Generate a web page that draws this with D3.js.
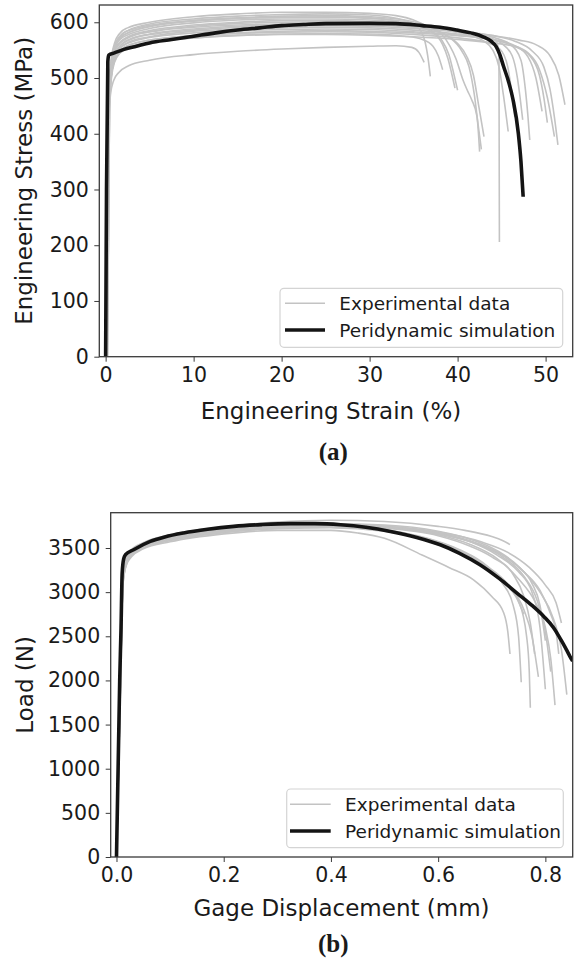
<!DOCTYPE html>
<html><head><meta charset="utf-8">
<script src="https://cdn.jsdelivr.net/npm/d3@7"></script>
<style>body{margin:0;background:#fff}svg{display:block}text{fill:#1a1a1a}</style>
</head><body>
<svg id="c" width="576" height="963"></svg>
<script>
// ---------- DATA ----------
const topXTicks = [0, 10, 20, 30, 40, 50];
const topYTicks = [0, 100, 200, 300, 400, 500, 600];
const botXTicks = [0.0, 0.2, 0.4, 0.6, 0.8];
const botYTicks = [0, 500, 1000, 1500, 2000, 2500, 3000, 3500];
const legendLabels = ["Experimental data", "Peridynamic simulation"];

// Engineering strain (%) vs engineering stress (MPa), experimental tests
const expStressStrain = [
 [[0.1,0],[0.35,450],[0.6,530],[1.0,562],[1.6,580],[2.5,590],[5,600],[10,610],[15,615],[20,618],[25,618],[30,616],[33,612],[35,604],[36.5,592],[37.5,578],[38.3,560],[38.9,535],[39.3,510],[39.7,482]],
 [[0.15,0],[0.4,470],[0.7,535],[1.1,560],[1.8,578],[2.6,586],[5,597],[10,606],[15,611],[20,614],[25,615],[30,613],[33,607],[34.8,598],[35.8,585],[36.3,565],[36.6,540],[36.9,503]],
 [[0.1,0],[0.3,430],[0.55,515],[0.9,550],[1.5,570],[2.4,580],[5,592],[10,603],[15,608],[20,611],[25,612],[30,610],[34,604],[36.5,594],[38,582],[39.1,558],[39.8,535],[40.6,497],[41.1,478],[41.6,461],[42.2,431],[42.5,368]],
 [[0.2,0],[0.45,480],[0.75,540],[1.2,565],[2.0,580],[3,587],[6,597],[10,603],[15,607],[20,609],[25,610],[30,608],[33,603],[35.5,594],[37,583],[38.2,568],[39,542],[39.5,512],[40,478]],
 [[0.1,0],[0.35,445],[0.6,520],[1.0,553],[1.7,570],[2.6,578],[5,589],[10,599],[15,604],[20,606],[25,606],[30,604],[34,598],[37,588],[39,574],[40.5,548],[41.3,520],[41.9,470],[42.3,420],[42.7,372]],
 [[0.15,0],[0.4,455],[0.7,525],[1.1,553],[1.9,568],[2.8,576],[5,585],[10,595],[15,600],[20,603],[25,603],[30,601],[35,595],[39,585],[41.5,576],[43,566],[44,550],[44.7,520],[45.2,470],[45.75,404]],
 [[0.1,0],[0.3,425],[0.6,515],[1.0,548],[1.8,566],[2.7,574],[5,583],[10,593],[15,598],[20,600],[25,601],[30,599],[35,594],[40,585],[43,575],[45,562],[46.2,540],[46.8,500],[47.1,465],[47.4,425]],
 [[0.2,0],[0.45,470],[0.8,535],[1.3,556],[2.1,568],[3,575],[6,585],[10,591],[15,595],[20,597],[25,598],[30,597],[35,592],[40,584],[44,573],[46,560],[47.2,532],[47.7,480],[48,430],[48.2,389]],
 [[0.1,0],[0.35,440],[0.65,515],[1.1,545],[1.9,562],[2.8,570],[5,579],[10,588],[15,593],[20,595],[25,596],[30,595],[35,591],[40,584],[44,576],[46.5,566],[48.5,548],[49.8,520],[50.5,480],[51,430],[51.4,380]],
 [[0.15,0],[0.4,455],[0.7,520],[1.2,547],[2.0,562],[3,570],[6,580],[10,586],[15,591],[20,593],[25,594],[30,593],[35,589],[40,583],[44,576],[47,568],[49,559],[50.5,540],[51.5,505],[52.2,452]],
 [[0.1,0],[0.3,420],[0.6,505],[1.0,538],[1.8,556],[2.7,565],[5,574],[10,584],[15,588],[20,590],[25,591],[30,590],[35,586],[40,579],[43.5,571],[46,560],[48,545],[49.3,515],[50.2,465],[51,395]],
 [[0.2,0],[0.45,460],[0.8,525],[1.3,548],[2.2,560],[3.2,566],[6,575],[10,581],[15,585],[20,587],[25,588],[30,587],[35,583],[40,577],[44,569],[46.5,558],[48,538],[48.9,500],[49.6,440]],
 [[0.1,0],[0.35,430],[0.65,505],[1.1,535],[1.9,552],[2.9,560],[5,568],[10,576],[15,581],[20,584],[25,585],[30,584],[35,581],[40,576],[43,571],[44.4,566],[44.7,540],[44.75,206]],
 [[0.15,0],[0.4,445],[0.75,515],[1.2,540],[2.0,554],[3,561],[6,570],[10,576],[15,580],[20,582],[25,583],[30,582],[35,578],[40,572],[43,565],[44.8,552],[45.7,520],[46.1,480],[46.5,430]],
 [[0.1,0],[0.3,415],[0.6,500],[1.0,530],[1.8,548],[2.8,556],[5,564],[10,572],[15,577],[20,579],[25,580],[30,579],[34,575],[36,569],[37.2,557],[37.8,540],[38.3,515]],
 [[0.2,0],[0.45,455],[0.8,515],[1.3,538],[2.2,551],[3.2,557],[6,566],[10,572],[15,576],[20,578],[25,578],[30,577],[35,574],[40,569],[44,563],[46.5,556],[48.2,540],[49.3,505],[49.8,465],[50.2,420]],
 [[0.1,0],[0.3,400],[0.55,470],[0.9,495],[1.5,510],[2.6,522],[5,532],[10,542],[15,548],[20,552],[25,555],[30,557],[33,558],[34.8,555],[35.6,546],[36.2,528]],
 [[0.15,0],[0.4,460],[0.7,530],[1.1,557],[1.8,574],[2.7,582],[5,593],[10,602],[15,607],[20,609],[25,609],[30,607],[34,601],[36.5,591],[38.5,578],[40,562],[41,540],[41.8,505],[42.4,450],[43.0,395]]
];
// Peridynamic simulation, stress-strain
const simStressStrain = [[0,0],[0.1,300],[0.25,530],[0.35,541],[1,545],[2,551],[3.5,557],[5,563],[7.5,569],[10,575],[12.5,581],[15,586],[17.5,590],[20,594],[22.5,596],[25,597.5],[30,598],[33,597.5],[36,594],[38,591],[39.9,586],[41.5,581],[42.9,574],[43.8,566],[44.4,556],[44.8,542],[45.2,522],[45.8,493],[46.3,461],[46.9,401],[47.2,350],[47.45,287]];

// Gage displacement (mm) vs load (N), experimental tests
const expLoadDisp = [
 [[0,0],[0.006,1900],[0.011,3150],[0.016,3360],[0.025,3460],[0.05,3560],[0.1,3650],[0.2,3740],[0.3,3795],[0.4,3815],[0.5,3800],[0.6,3745],[0.65,3700],[0.7,3630],[0.72,3585],[0.734,3540]],
 [[0,0],[0.007,1850],[0.012,3080],[0.018,3300],[0.028,3400],[0.05,3490],[0.1,3570],[0.2,3660],[0.3,3700],[0.4,3700],[0.45,3670],[0.5,3610],[0.57,3420],[0.62,3280],[0.666,3140],[0.7,2950],[0.722,2770],[0.73,2550],[0.734,2300]],
 [[0,0],[0.006,1800],[0.011,3100],[0.017,3320],[0.026,3420],[0.05,3510],[0.1,3595],[0.2,3690],[0.3,3735],[0.4,3745],[0.5,3710],[0.57,3620],[0.63,3500],[0.68,3330],[0.72,3130],[0.75,2900],[0.765,2500],[0.77,2100],[0.772,1690]],
 [[0,0],[0.007,1900],[0.012,3120],[0.017,3330],[0.027,3430],[0.05,3520],[0.1,3605],[0.2,3700],[0.3,3745],[0.4,3760],[0.5,3735],[0.6,3650],[0.66,3540],[0.71,3380],[0.75,3150],[0.78,2900],[0.8,2600],[0.81,2250],[0.818,1720]],
 [[0,0],[0.006,1850],[0.011,3100],[0.016,3320],[0.025,3430],[0.05,3530],[0.1,3615],[0.2,3705],[0.3,3750],[0.4,3765],[0.5,3745],[0.6,3670],[0.67,3560],[0.72,3420],[0.76,3230],[0.79,3000],[0.815,2700],[0.83,2350],[0.84,1840]],
 [[0,0],[0.007,1800],[0.012,3090],[0.018,3310],[0.027,3410],[0.05,3500],[0.1,3590],[0.2,3680],[0.3,3725],[0.4,3735],[0.5,3700],[0.58,3600],[0.64,3470],[0.69,3300],[0.73,3090],[0.76,2800],[0.775,2500],[0.787,2040]],
 [[0,0],[0.006,1900],[0.011,3140],[0.016,3350],[0.025,3450],[0.05,3540],[0.1,3625],[0.2,3715],[0.3,3760],[0.4,3775],[0.5,3760],[0.6,3690],[0.66,3600],[0.71,3470],[0.75,3290],[0.775,3100],[0.79,2850],[0.8,2450]],
 [[0,0],[0.007,1850],[0.012,3110],[0.017,3330],[0.026,3440],[0.05,3530],[0.1,3610],[0.2,3700],[0.3,3745],[0.4,3760],[0.5,3745],[0.6,3680],[0.68,3570],[0.73,3450],[0.77,3280],[0.8,3080],[0.82,2880],[0.83,2650]],
 [[0,0],[0.006,1800],[0.011,3080],[0.017,3300],[0.026,3410],[0.05,3500],[0.1,3585],[0.2,3675],[0.3,3720],[0.4,3730],[0.5,3690],[0.58,3580],[0.64,3440],[0.69,3260],[0.72,3120],[0.745,2950],[0.76,2750]],
 [[0,0],[0.007,1900],[0.012,3130],[0.017,3340],[0.026,3440],[0.05,3525],[0.1,3610],[0.2,3700],[0.3,3740],[0.4,3750],[0.5,3725],[0.6,3640],[0.66,3520],[0.7,3400],[0.74,3200],[0.76,2950],[0.772,2650],[0.78,2300]],
 [[0,0],[0.006,1850],[0.011,3110],[0.016,3330],[0.026,3435],[0.05,3515],[0.1,3600],[0.2,3690],[0.3,3735],[0.4,3750],[0.5,3730],[0.6,3660],[0.67,3550],[0.72,3400],[0.76,3180],[0.785,2900],[0.8,2550],[0.81,2100]],
 [[0,0],[0.007,1800],[0.012,3090],[0.018,3310],[0.027,3420],[0.05,3505],[0.1,3590],[0.2,3680],[0.3,3725],[0.4,3735],[0.5,3700],[0.58,3610],[0.64,3480],[0.69,3300],[0.72,3100],[0.74,2850],[0.75,2500],[0.755,1980]],
 [[0,0],[0.006,1900],[0.011,3120],[0.016,3340],[0.025,3445],[0.05,3530],[0.1,3615],[0.2,3705],[0.3,3750],[0.4,3765],[0.5,3745],[0.6,3670],[0.66,3570],[0.71,3420],[0.75,3230],[0.775,3000],[0.79,2600],[0.8,1900]],
 [[0,0],[0.007,1850],[0.012,3100],[0.017,3320],[0.026,3430],[0.05,3520],[0.1,3605],[0.2,3695],[0.3,3740],[0.4,3755],[0.5,3740],[0.6,3665],[0.67,3555],[0.72,3420],[0.76,3230],[0.79,3020],[0.81,2750],[0.82,2550],[0.825,2300]]
];
// Peridynamic simulation, load-displacement
const simLoadDisp = [[0,0],[0.006,2000],[0.0085,2600],[0.0106,3216],[0.0135,3380],[0.0168,3424],[0.032,3481],[0.063,3575],[0.09,3625],[0.125,3670],[0.17,3712],[0.219,3745],[0.27,3765],[0.324,3776],[0.37,3776],[0.418,3764],[0.465,3735],[0.511,3688],[0.56,3620],[0.604,3537],[0.64,3440],[0.678,3311],[0.715,3150],[0.747,2990],[0.775,2850],[0.797,2725],[0.815,2600],[0.83,2450],[0.84,2340],[0.846,2271],[0.851,2220]];

// ---------- DRAW ----------
const svg = d3.select("#c");
const GRAY = "#c3c3c3", BLACK = "#141414", SPINE = "#3a3a3a";
const SANS = "'DejaVu Sans', sans-serif";

function panel(cfg) {
  const x = d3.scaleLinear().domain(cfg.xDom).range([cfg.left, cfg.right]);
  const y = d3.scaleLinear().domain(cfg.yDom).range([cfg.bottom, cfg.top]);
  const g = svg.append("g");
  const clipId = "clip" + cfg.id;
  svg.append("clipPath").attr("id", clipId).append("rect")
    .attr("x", cfg.left).attr("y", cfg.top)
    .attr("width", cfg.right - cfg.left).attr("height", cfg.bottom - cfg.top);
  const line = d3.line().x(d => x(d[0])).y(d => y(d[1])).curve(d3.curveMonotoneX);
  const plot = g.append("g").attr("clip-path", `url(#${clipId})`);
  plot.selectAll("path.exp").data(cfg.exp).join("path").attr("class", "exp")
    .attr("d", line).attr("fill", "none").attr("stroke", GRAY)
    .attr("stroke-width", 1.6).attr("stroke-linejoin", "round");
  plot.append("path").datum(cfg.sim).attr("d", line).attr("fill", "none")
    .attr("stroke", BLACK).attr("stroke-width", 3.6).attr("stroke-linejoin", "round");

  const xa = g.append("g").attr("transform", `translate(0,${cfg.bottom})`)
    .call(d3.axisBottom(x).tickValues(cfg.xTicks).tickFormat(cfg.xFmt).tickSize(5).tickPadding(5.5));
  const ya = g.append("g").attr("transform", `translate(${cfg.left},0)`)
    .call(d3.axisLeft(y).tickValues(cfg.yTicks).tickFormat(d3.format("d")).tickSize(5).tickPadding(5.5));
  [xa, ya].forEach(a => {
    a.select(".domain").remove();
    a.selectAll(".tick line").attr("stroke", SPINE).attr("stroke-width", 1);
    a.selectAll(".tick text").style("font-size", "20.5px").style("font-family", SANS).style("fill", "#1a1a1a");
  });
  g.append("rect").attr("x", cfg.left).attr("y", cfg.top)
    .attr("width", cfg.right - cfg.left).attr("height", cfg.bottom - cfg.top)
    .attr("fill", "none").attr("stroke", SPINE).attr("stroke-width", 1.3);

  g.append("text").attr("x", cfg.xLabelX).attr("y", cfg.xLabelY).attr("text-anchor", "middle")
    .style("font-family", SANS).style("font-size", "23px").text(cfg.xLabel);
  g.append("text").attr("transform", `translate(${cfg.yLabelX},${(cfg.top + cfg.bottom) / 2}) rotate(-90)`)
    .attr("text-anchor", "middle").style("font-family", SANS).style("font-size", "23px").text(cfg.yLabel);
  g.append("text").attr("x", 333.3).attr("y", cfg.capY).attr("text-anchor", "middle")
    .style("font-family", "'Liberation Serif', 'Times New Roman', serif").style("font-weight", "bold")
    .style("font-size", "25px").text(cfg.cap);

  // legend
  const L = cfg.leg;
  g.append("rect").attr("x", L.x0).attr("y", L.y0).attr("width", L.x1 - L.x0).attr("height", L.y1 - L.y0)
    .attr("rx", 4).attr("fill", "#fff").attr("fill-opacity", 0.85)
    .attr("stroke", "#d4d4d4").attr("stroke-width", 1.2);
  legendLabels.forEach((lab, i) => {
    const yy = L.rows[i];
    g.append("line").attr("x1", L.h0).attr("x2", L.h1).attr("y1", yy).attr("y2", yy)
      .attr("stroke", i === 0 ? GRAY : BLACK).attr("stroke-width", i === 0 ? 1.6 : 3.6);
    g.append("text").attr("x", L.tx).attr("y", yy + 6.6)
      .style("font-family", SANS).style("font-size", "18.5px").text(lab);
  });
}

panel({
  id: "a", left: 99.3, right: 572.7, top: 5, bottom: 356.7,
  xDom: [-0.72, 53.08], yDom: [0, 631],
  xTicks: topXTicks, yTicks: topYTicks, xFmt: d3.format("d"),
  exp: expStressStrain, sim: simStressStrain,
  xLabel: "Engineering Strain (%)", xLabelX: 331, xLabelY: 419.3,
  yLabel: "Engineering Stress (MPa)", yLabelX: 31.5,
  cap: "(a)", capY: 459.5,
  leg: { x0: 280, x1: 562.7, y0: 288.3, y1: 347.3, h0: 285, h1: 325, tx: 339.3, rows: [303.3, 330] }
});
panel({
  id: "b", left: 110.7, right: 572.7, top: 512.7, bottom: 857,
  xDom: [-0.0108, 0.851], yDom: [0, 3900],
  xTicks: botXTicks, yTicks: botYTicks, xFmt: d3.format(".1f"),
  exp: expLoadDisp, sim: simLoadDisp,
  xLabel: "Gage Displacement (mm)", xLabelX: 341.5, xLabelY: 916,
  yLabel: "Load (N)", yLabelX: 33,
  cap: "(b)", capY: 951.5,
  leg: { x0: 286.7, x1: 563.3, y0: 789, y1: 847.7, h0: 290, h1: 330.7, tx: 345, rows: [804.3, 831] }
});
</script>
</body></html>
